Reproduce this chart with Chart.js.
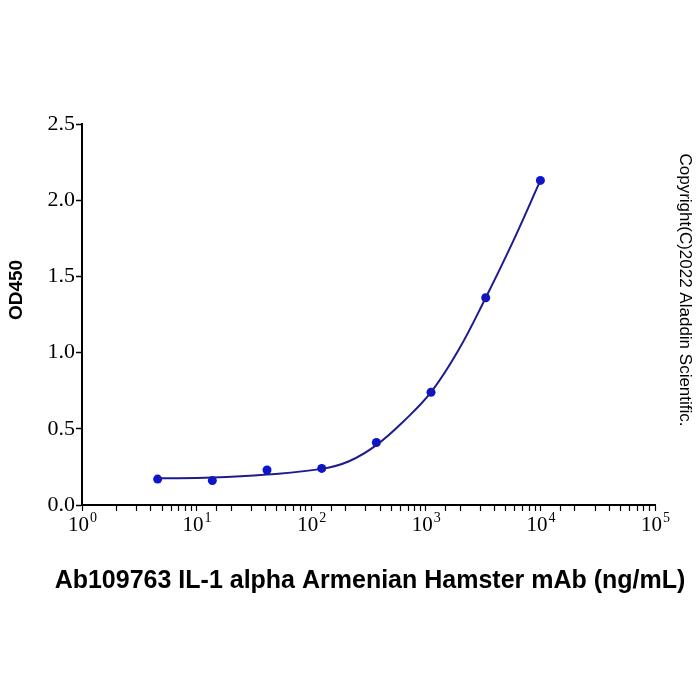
<!DOCTYPE html>
<html>
<head>
<meta charset="utf-8">
<script src="https://cdn.jsdelivr.net/npm/chart.js@4"></script>
<style>
  html, body { margin: 0; padding: 0; background: #fff; }
  #wrap { width: 700px; height: 700px; }
</style>
</head>
<body>
<div id="wrap"><canvas id="elisa" width="700" height="700"></canvas></div>
<script>
// measured points (3-fold dilution series, ng/mL)
const concentrations = [4.572, 13.72, 41.15, 123.5, 370.4, 1111, 3333, 10000];
const od450 = [0.17, 0.16, 0.23, 0.24, 0.41, 0.74, 1.36, 2.13];

// fitted curve
const fitX = [4.572, 13.72, 41.15, 123.5, 213.8, 370.4, 641.5, 1111, 1925, 3333, 5774, 10000];
const fitY = [0.175, 0.18, 0.2, 0.237, 0.287, 0.393, 0.55, 0.74, 1.015, 1.36, 1.73, 2.13];

const xTitle = 'Ab109763 IL-1 alpha Armenian Hamster mAb (ng/mL)';
const yTitle = 'OD450';
const copyright = 'Copyright(C)2022 Aladdin Scientific.';

const serif = '"Liberation Serif", "Times New Roman", serif';
const sans = '"Liberation Sans", Arial, sans-serif';

const extraText = {
  id: 'extraText',
  afterDraw(chart) {
    const c = chart.ctx;
    const xs = chart.scales.x;
    c.save();
    c.fillStyle = '#000';
    c.textBaseline = 'alphabetic';

    // x tick labels 10^n
    xs.ticks.forEach(t => {
      const e = Math.log10(t.value);
      if (Math.abs(e - Math.round(e)) > 1e-9) return;
      const px = xs.getPixelForValue(t.value);
      c.font = '21px ' + serif;
      const wb = c.measureText('10').width;
      c.font = '14px ' + serif;
      const exp = String(Math.round(e));
      const we = c.measureText(exp).width;
      const x0 = px - (wb + we) / 2;
      c.textAlign = 'left';
      c.font = '21px ' + serif;
      c.fillText('10', x0, 531);
      c.font = '14px ' + serif;
      c.fillText(exp, x0 + wb + 1, 522);
    });

    c.textAlign = 'center';
    c.textBaseline = 'middle';
    // x title
    c.font = 'bold 25px ' + sans;
    c.fillText(xTitle, 370, 581);
    // y title
    c.save();
    c.translate(17, 290);
    c.rotate(-Math.PI / 2);
    c.font = 'bold 19px ' + sans;
    c.fillText(yTitle, 0, 0);
    c.restore();
    // copyright, reads top to bottom
    c.save();
    c.translate(685, 290);
    c.rotate(Math.PI / 2);
    c.font = '17px ' + sans;
    c.fillText(copyright, 0, 0);
    c.restore();
    c.restore();
  }
};

const ctx = document.getElementById('elisa').getContext('2d');
const chart = new Chart(ctx, {
  type: 'line',
  data: {
    datasets: [
      {
        label: 'fit',
        data: fitX.map((x, i) => ({x: x, y: fitY[i]})),
        borderColor: '#1c1c8e',
        borderWidth: 2,
        pointRadius: 0,
        tension: 0.4,
        fill: false
      },
      {
        label: 'OD450',
        data: concentrations.map((x, i) => ({x: x, y: od450[i]})),
        showLine: false,
        pointRadius: 4.5,
        pointBackgroundColor: '#0a14d2',
        pointBorderColor: '#0a14d2',
        pointBorderWidth: 0
      }
    ]
  },
  options: {
    responsive: false,
    animation: false,
    layout: { padding: { left: 0, top: 124, right: 45, bottom: 0 } },
    plugins: { legend: { display: false }, tooltip: { enabled: false } },
    scales: {
      x: {
        type: 'logarithmic',
        min: 1,
        max: 100000,
        afterFit(scale) { scale.height = 195; },
        border: { display: true, color: '#000', width: 2 },
        grid: { display: true, drawOnChartArea: false, drawTicks: true, tickLength: 6, color: '#000', tickWidth: 1.2 },
        ticks: {
          autoSkip: false,
          maxRotation: 0,
          callback() { return ''; }
        }
      },
      y: {
        min: 0,
        max: 2.5,
        afterFit(scale) { scale.width = 82; },
        border: { display: true, color: '#000', width: 2 },
        grid: { display: true, drawOnChartArea: false, drawTicks: true, tickLength: 6, color: '#000', tickWidth: 1.5 },
        ticks: {
          stepSize: 0.5,
          padding: 1,
          color: '#000',
          font: { family: serif, size: 22 },
          callback(v) { return v.toFixed(1); }
        }
      }
    }
  },
  plugins: [extraText]
});
</script>
</body>
</html>
